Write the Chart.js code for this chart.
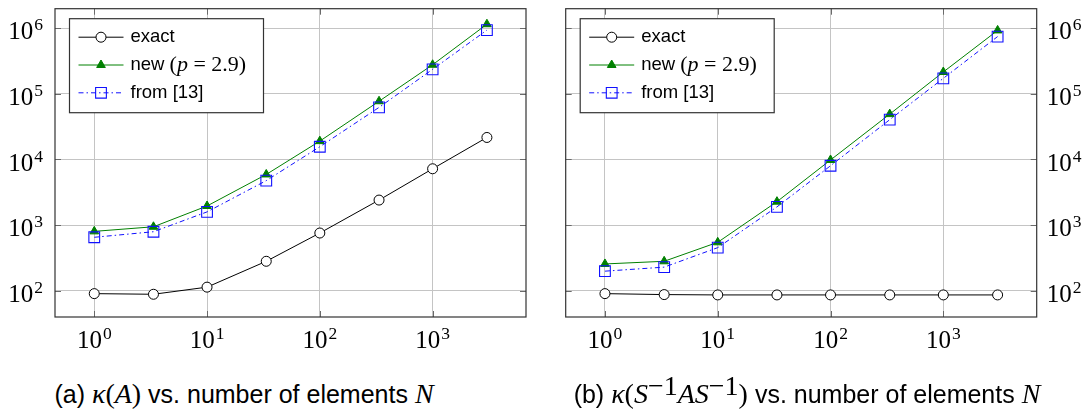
<!DOCTYPE html>
<html>
<head>
<meta charset="utf-8">
<title>Condition number vs. number of elements</title>
<style>
  body { margin: 0; background: #fff; width: 1091px; height: 412px; position: relative; overflow: hidden; }
  .panel { position: absolute; top: 0; }
  .caption {
    position: absolute; top: 378px; width: 500px; text-align: center;
    font-family: "Liberation Sans", Arial, sans-serif; font-size: 25px; color: #000; white-space: nowrap;
  }
  .m { font-family: "Liberation Serif", serif; font-size: 28px; }
  .mi { font-family: "Liberation Serif", serif; font-style: italic; font-size: 28px; }
  sup { font-size: 18px; line-height: 0; vertical-align: 8px; }
</style>
</head>
<body>
<div class="panel" style="left:0"><canvas id="chartA" width="545" height="360"></canvas></div>
<div class="panel" style="left:540px"><canvas id="chartB" width="551" height="360"></canvas></div>
<div class="caption" style="left:-6px">(a) <span class="mi">κ</span><span class="m">(</span><span class="mi">A</span><span class="m">)</span> vs. number of elements <span class="mi">N</span></div>
<div class="caption" style="left:557px">(b) <span class="mi">κ</span><span class="m">(</span><span class="mi">S</span><sup class="m">−1</sup><span class="mi">AS</span><sup class="m">−1</sup><span class="m">)</span> vs. number of elements <span class="mi">N</span></div>

<script src="https://cdn.jsdelivr.net/npm/chart.js"></script>
<script>
  // number of elements (x) and condition numbers
  const N = [1, 3.35, 10, 33.5, 100, 335, 1000, 3030];
  const exactA = [90, 88, 113, 280, 755, 2400, 7200, 21600];
  const newA = [800, 940, 1950, 5900, 19000, 77000, 277000, 1150000];
  const fromA = [650, 790, 1585, 4750, 15600, 62000, 236000, 935000];
  const exactB = [90, 87, 86, 86, 86, 86, 86, 86];
  const newB = [255, 280, 545, 2270, 9800, 49000, 215000, 925000];
  const fromB = [198, 228, 452, 1890, 8000, 40300, 172000, 745000];

  const xTicks = [1, 10, 100, 1000];
  const yTicks = [100, 1000, 10000, 100000, 1000000];
  const seriesNames = ['exact', 'new (p = 2.9)', 'from [13]'];

  const SANS = '"Liberation Sans", Arial, sans-serif';
  const SERIF = '"Liberation Serif", serif';
  const BASE_FONT = '25px ' + SERIF;
  const EXP_FONT = '17.5px ' + SERIF;

  // legend text pieces: [text, font]
  const legendParts = [
    [['exact', '18.5px ' + SANS]],
    [['new ', '18.5px ' + SANS], ['(', '22px ' + SERIF], ['p', 'italic 22px ' + SERIF], [' = 2.9)', '22px ' + SERIF]],
    [['from [13]', '18.5px ' + SANS]]
  ];

  function toPoints(vals) {
    return vals.map((v, i) => ({ x: N[i], y: v }));
  }

  // draws "10" with a raised exponent; anchor: 'center' | 'right' | 'left'
  function drawPow(ctx, v, x, baseline, anchor) {
    const e = String(Math.round(Math.log10(v)));
    ctx.font = BASE_FONT;
    const wb = ctx.measureText('10').width;
    ctx.font = EXP_FONT;
    const we = ctx.measureText(e).width;
    const total = wb + 1 + we;
    let x0 = x;
    if (anchor === 'center') x0 = x - total / 2;
    if (anchor === 'right') x0 = x - total;
    ctx.textAlign = 'left';
    ctx.textBaseline = 'alphabetic';
    ctx.font = BASE_FONT;
    ctx.fillText('10', x0, baseline);
    ctx.font = EXP_FONT;
    ctx.fillText(e, x0 + wb + 1, baseline - 9);
  }

  const frame = {
    id: 'frame',
    beforeDatasetsDraw(chart) {
      const { ctx, chartArea: a, scales } = chart;
      ctx.save();
      ctx.strokeStyle = '#6a6a6a';
      ctx.lineWidth = 1;
      ctx.beginPath();
      scales.x.ticks.forEach(t => {
        const px = Math.round(scales.x.getPixelForValue(t.value)) + 0.5;
        ctx.moveTo(px, a.bottom); ctx.lineTo(px, a.bottom - 6);
        ctx.moveTo(px, a.top); ctx.lineTo(px, a.top + 6);
      });
      scales.y.ticks.forEach(t => {
        const py = Math.round(scales.y.getPixelForValue(t.value)) + 0.5;
        ctx.moveTo(a.left, py); ctx.lineTo(a.left + 6, py);
        ctx.moveTo(a.right, py); ctx.lineTo(a.right - 6, py);
      });
      ctx.stroke();
      ctx.strokeStyle = '#333';
      ctx.lineWidth = 1.2;
      ctx.strokeRect(a.left, a.top, a.right - a.left, a.bottom - a.top);

      // tick labels
      ctx.fillStyle = '#000';
      scales.x.ticks.forEach(t => {
        drawPow(ctx, t.value, scales.x.getPixelForValue(t.value), a.bottom + 31, 'center');
      });
      const yRight = scales.y.position === 'right';
      scales.y.ticks.forEach(t => {
        const py = scales.y.getPixelForValue(t.value);
        if (yRight) drawPow(ctx, t.value, a.right + 10, py + 11.3, 'left');
        else drawPow(ctx, t.value, a.left - 12, py + 11.3, 'right');
      });
      ctx.restore();
    },
    afterDatasetsDraw(chart) {
      const { ctx, chartArea: a } = chart;
      const x = a.left + 14.5, y = a.top + 10, w = 194, h = 94;
      ctx.save();
      ctx.fillStyle = '#fff';
      ctx.fillRect(x, y, w, h);
      ctx.strokeStyle = '#333';
      ctx.lineWidth = 1.2;
      ctx.strokeRect(x, y, w, h);
      chart.data.datasets.forEach((ds, i) => {
        const cy = y + 18.5 + i * 27.8;
        ctx.strokeStyle = ds.borderColor;
        ctx.lineWidth = ds.borderWidth;
        ctx.setLineDash(ds.borderDash || []);
        ctx.beginPath();
        ctx.moveTo(x + 9, cy);
        ctx.lineTo(x + 54, cy);
        ctx.stroke();
        ctx.setLineDash([]);
        ctx.fillStyle = ds.pointBackgroundColor;
        ctx.lineWidth = ds.pointBorderWidth;
        Chart.helpers.drawPoint(ctx, { pointStyle: ds.pointStyle, radius: ds.pointRadius, borderWidth: ds.pointBorderWidth, rotation: 0 }, x + 31.5, cy);
        ctx.fillStyle = '#000';
        ctx.textBaseline = 'middle';
        let tx = x + 61;
        legendParts[i].forEach(([t, f]) => {
          ctx.font = f;
          ctx.fillText(t, tx, cy);
          tx += ctx.measureText(t).width;
        });
      });
      ctx.restore();
    }
  };

  function makeChart(id, exact, nw, frm, yPos, padLeft, padRight, yWidth) {
    return new Chart(document.getElementById(id), {
      type: 'line',
      data: {
        datasets: [
          {
            label: seriesNames[0], data: toPoints(exact), order: 2,
            borderColor: '#000', borderWidth: 1,
            pointStyle: 'circle', pointRadius: 5, pointBorderWidth: 1,
            pointBorderColor: '#000', pointBackgroundColor: '#fff'
          },
          {
            label: seriesNames[1], data: toPoints(nw), order: 1,
            borderColor: '#008000', borderWidth: 1,
            pointStyle: 'triangle', pointRadius: 5, pointBorderWidth: 1,
            pointBorderColor: '#008000', pointBackgroundColor: '#008000'
          },
          {
            label: seriesNames[2], data: toPoints(frm), order: 0,
            borderColor: '#1010ff', borderWidth: 1, borderDash: [5, 3, 1.5, 3],
            pointStyle: 'rect', pointRadius: 7.6, pointBorderWidth: 1.1,
            pointBorderColor: '#1010ff', pointBackgroundColor: 'rgba(0,0,0,0)'
          }
        ]
      },
      options: {
        responsive: false,
        animation: false,
        events: [],
        layout: { padding: { top: 5, left: padLeft, right: padRight, bottom: 0 } },
        plugins: { legend: { display: false }, tooltip: { enabled: false } },
        scales: {
          x: {
            type: 'logarithmic',
            min: Math.pow(10, -0.348),
            max: Math.pow(10, 3.828),
            afterBuildTicks: s => { s.ticks = xTicks.map(v => ({ value: v })); },
            afterFit: s => { s.height = 43; s.paddingLeft = 0; s.paddingRight = 0; },
            grid: { color: '#c4c4c4', lineWidth: 1, drawTicks: false },
            border: { display: false },
            ticks: { display: false }
          },
          y: {
            type: 'logarithmic',
            position: yPos,
            min: Math.pow(10, 1.598),
            max: Math.pow(10, 6.297),
            afterBuildTicks: s => { s.ticks = yTicks.map(v => ({ value: v })); },
            afterFit: s => { s.width = yWidth; s.paddingTop = 0; s.paddingBottom = 0; },
            grid: { color: '#c4c4c4', lineWidth: 1, drawTicks: false },
            border: { display: false },
            ticks: { display: false }
          }
        }
      },
      plugins: [frame]
    });
  }

  makeChart('chartA', exactA, newA, fromA, 'left', 0, 19, 55);
  makeChart('chartB', exactB, newB, fromB, 'right', 25.7, 0, 54.3);
</script>
</body>
</html>
